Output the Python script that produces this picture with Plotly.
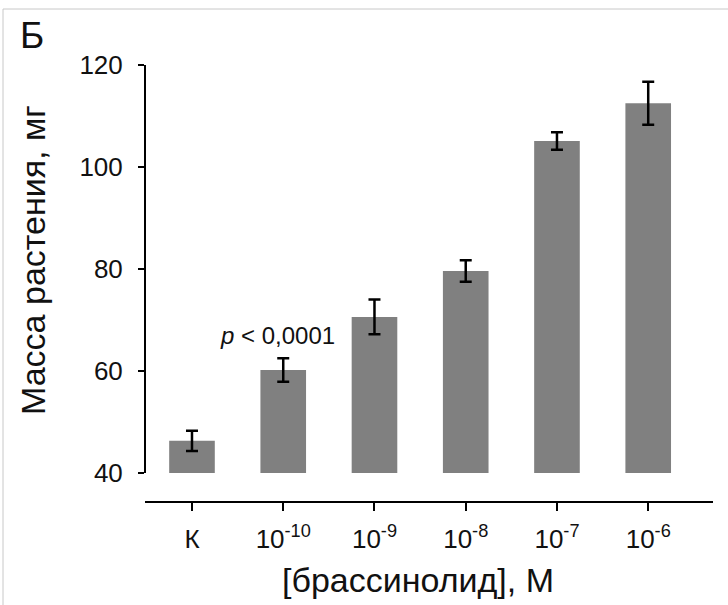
import plotly.graph_objects as go

categories = ["К", "10<sup>-10</sup>", "10<sup>-9</sup>", "10<sup>-8</sup>", "10<sup>-7</sup>", "10<sup>-6</sup>"]
mass = [46.3, 60.2, 70.6, 79.6, 105.1, 112.5]
errors = [2.0, 2.3, 3.4, 2.1, 1.7, 4.2]
y_ticks = [40, 60, 80, 100, 120]
base_value = 40

FONT = "Liberation Sans, Arial, sans-serif"

W, H = 728, 605
L, R, T, B = 145, 15, 65, 104
pw, ph = W - L - R, H - T - B

def px(x):
    return (x - L) / pw

def py(y):
    return (H - B - y) / ph

fig = go.Figure()
fig.add_trace(go.Bar(
    x=categories,
    y=[m - base_value for m in mass],
    base=base_value,
    width=0.5,
    marker=dict(color="#808080", line=dict(width=0)),
    error_y=dict(type="data", array=errors, visible=True, color="black", thickness=2.5, width=6),
    showlegend=False,
))

fig.update_layout(
    width=W, height=H,
    margin=dict(l=L, r=R, t=T, b=B, pad=0),
    paper_bgcolor="white", plot_bgcolor="white",
    font=dict(family=FONT, color="#111111"),
    xaxis=dict(
        range=[-0.515, 5.71],
        showline=True, linecolor="black", linewidth=2,
        ticks="outside", ticklen=8, tickwidth=2, tickcolor="black",
        tickfont=dict(size=26, family=FONT, color="#111111"),
        ticklabelstandoff=6,
        showgrid=False, zeroline=False,
    ),
    yaxis=dict(
        range=[34.5, 120],
        tickvals=y_ticks,
        showline=False,
        ticks="outside", ticklen=6, tickwidth=2, tickcolor="black",
        tickfont=dict(size=26, family=FONT, color="#111111"),
        ticklabelstandoff=10,
        showgrid=False, zeroline=False,
    ),
    shapes=[
        dict(type="line", xref="paper", yref="y", x0=0, x1=0, y0=40, y1=120,
             line=dict(color="black", width=2)),
        dict(type="line", xref="paper", yref="paper", x0=px(3), x1=px(3), y0=py(9), y1=py(620),
             line=dict(color="#c8c8c8", width=1)),
        dict(type="line", xref="paper", yref="paper", x0=px(3), x1=px(740), y0=py(9), y1=py(9),
             line=dict(color="#c8c8c8", width=1)),
    ],
    annotations=[
        dict(text="<i>p</i> < 0,0001", x=1, xref="x", y=66.9, yref="y", xshift=-6,
             showarrow=False, xanchor="center", yanchor="middle",
             font=dict(size=24, family=FONT, color="#111111")),
        dict(text="Масса растения, мг", x=px(33), y=py(260), xref="paper", yref="paper",
             textangle=-90, showarrow=False, xanchor="center", yanchor="middle",
             font=dict(size=34, family=FONT, color="#111111")),
        dict(text="[брассинолид], М", x=px(418), y=py(580), xref="paper", yref="paper",
             showarrow=False, xanchor="center", yanchor="middle",
             font=dict(size=34, family=FONT, color="#111111")),
        dict(text="Б", x=px(32), y=py(35), xref="paper", yref="paper",
             showarrow=False, xanchor="center", yanchor="middle",
             font=dict(size=37, family=FONT, color="#111111")),
    ],
)

fig.write_html("out.html")
